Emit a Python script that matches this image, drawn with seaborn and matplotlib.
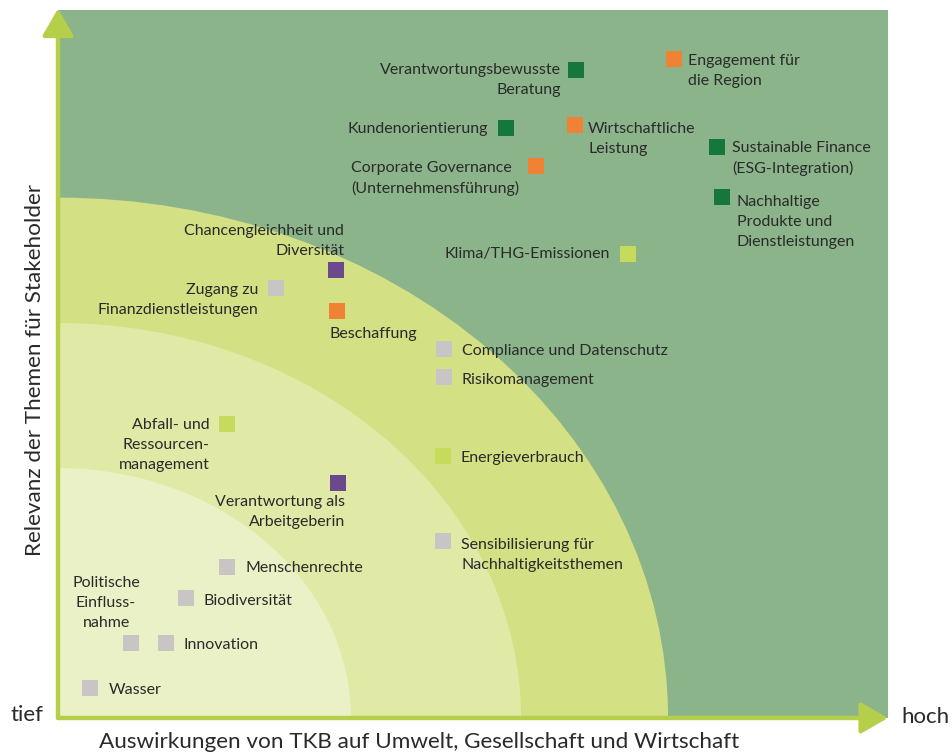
import matplotlib

matplotlib.use("Agg")
import matplotlib.pyplot as plt
import pandas as pd
import seaborn as sns
from matplotlib.patches import Wedge

# Themen der Wesentlichkeitsmatrix
themen = [
    "Verantwortungsbewusste\nBeratung",
    "Engagement für\ndie Region",
    "Kundenorientierung",
    "Wirtschaftliche\nLeistung",
    "Sustainable Finance\n(ESG-Integration)",
    "Corporate Governance\n(Unternehmensführung)",
    "Nachhaltige\nProdukte und\nDienstleistungen",
    "Klima/THG-Emissionen",
    "Chancengleichheit und\nDiversität",
    "Zugang zu\nFinanzdienstleistungen",
    "Beschaffung",
    "Compliance und Datenschutz",
    "Risikomanagement",
    "Abfall- und\nRessourcen-\nmanagement",
    "Energieverbrauch",
    "Verantwortung als\nArbeitgeberin",
    "Sensibilisierung für\nNachhaltigkeitsthemen",
    "Menschenrechte",
    "Biodiversität",
    "Politische\nEinfluss-\nnahme",
    "Innovation",
    "Wasser",
]
auswirkung = [6.24, 7.42, 5.40, 6.23, 7.94, 5.76, 8.00, 6.87, 3.35, 2.63, 3.36,
              4.65, 4.65, 2.04, 4.64, 3.37, 4.64, 2.04, 1.54, 0.88, 1.30, 0.39]
relevanz = [9.15, 9.31, 8.33, 8.38, 8.07, 7.80, 7.36, 6.55, 6.33, 6.07, 5.75,
            5.21, 4.82, 4.15, 3.70, 3.32, 2.50, 2.13, 1.69, 1.06, 1.06, 0.42]
gruppe = ["wirtschaft", "gesellschaft", "wirtschaft", "gesellschaft", "wirtschaft",
          "gesellschaft", "wirtschaft", "umwelt", "mitarbeitende", "weitere",
          "gesellschaft", "weitere", "weitere", "umwelt", "umwelt", "mitarbeitende",
          "weitere", "weitere", "weitere", "weitere", "weitere", "weitere"]
zonen_radius = [7.35, 5.58, 3.53]

farben = {
    "wirtschaft": "#15773b",
    "gesellschaft": "#ef8234",
    "mitarbeitende": "#6a4a8c",
    "umwelt": "#c6da5c",
    "weitere": "#c9c5c5",
}
zonen_farben = ["#d3e083", "#e1e9a7", "#ebf1c6"]

# Beschriftung: Versatz in Pixeln, Ausrichtung
beschriftung = [
    (-15, 7, "right", "top"), (14, 5, "left", "top"), (-18, -1, "right", "center"),
    (13, 3, "left", "top"), (15, 6, "left", "top"), (-17, 5, "right", "top"),
    (15, 2, "left", "top"), (-18, 0, "right", "center"), (8, 12, "right", "bottom"),
    (-18, 5, "right", "top"), (-7, -23, "left", "center"), (18, -2, "left", "center"),
    (18, -3, "left", "center"), (-18, 6, "right", "top"), (17, -2, "left", "center"),
    (7, -12, "right", "top"), (18, 3, "left", "top"), (18, -1, "left", "center"),
    (18, -3, "left", "center"), (-25, 13, "center", "bottom"), (18, -2, "left", "center"),
    (18, -2, "left", "center"),
]

df = pd.DataFrame({"thema": themen, "x": auswirkung, "y": relevanz, "gruppe": gruppe})

sns.set_theme(style="white")
plt.rcParams["font.family"] = ["Lato", "DejaVu Sans"]
textfarbe = "#2a2a2a"
achsenfarbe = "#b6cf4b"

fig = plt.figure(figsize=(9.52, 7.55), dpi=100)
ax = fig.add_axes([58 / 952, 37 / 755, 830 / 952, 708 / 755])
ax.set_xlim(0, 10)
ax.set_ylim(0, 10)
ax.set_facecolor("#8cb48b")
for s in ax.spines.values():
    s.set_visible(False)
ax.set_xticks([])
ax.set_yticks([])

for r, c in zip(zonen_radius, zonen_farben):
    ax.add_patch(Wedge((0, 0), r, 0, 90, facecolor=c, edgecolor="none", zorder=1))

sns.scatterplot(data=df, x="x", y="y", hue="gruppe", palette=farben, marker="s",
                s=135, linewidth=0, legend=False, ax=ax, zorder=3)

for (_, row), (dx, dy, ha, va) in zip(df.iterrows(), beschriftung):
    ax.annotate(row["thema"], (row["x"], row["y"]), xytext=(dx, dy),
                textcoords="offset pixels", ha=ha, va=va,
                multialignment="left" if row["thema"].startswith("Corporate") else ha,
                fontsize=11.5, color=textfarbe, linespacing=1.55, zorder=4)

ax.set_xlabel("")
ax.set_ylabel("")

pfeil = dict(arrowstyle="-|>,head_length=1.65,head_width=0.95", color=achsenfarbe,
             lw=3.2, shrinkA=0, shrinkB=0, mutation_scale=10)
ax.annotate("", xy=(10, 0), xytext=(0, 0), arrowprops=pfeil, annotation_clip=False, zorder=5)
ax.annotate("", xy=(0, 10.02), xytext=(0, 0), arrowprops=pfeil, annotation_clip=False, zorder=5)

fig.text(419 / 952, 1 - 742 / 755, "Auswirkungen von TKB auf Umwelt, Gesellschaft und Wirtschaft",
         ha="center", va="center", fontsize=16.2, color=textfarbe)
fig.text(35 / 952, 1 - 370 / 755, "Relevanz der Themen für Stakeholder", rotation=90,
         ha="center", va="center", fontsize=16.2, color=textfarbe)
fig.text(27 / 952, 1 - 715 / 755, "tief", ha="center", va="center", fontsize=16, color=textfarbe)
fig.text(925 / 952, 1 - 717 / 755, "hoch", ha="center", va="center", fontsize=16, color=textfarbe)

fig.savefig("out.png", dpi=100)
